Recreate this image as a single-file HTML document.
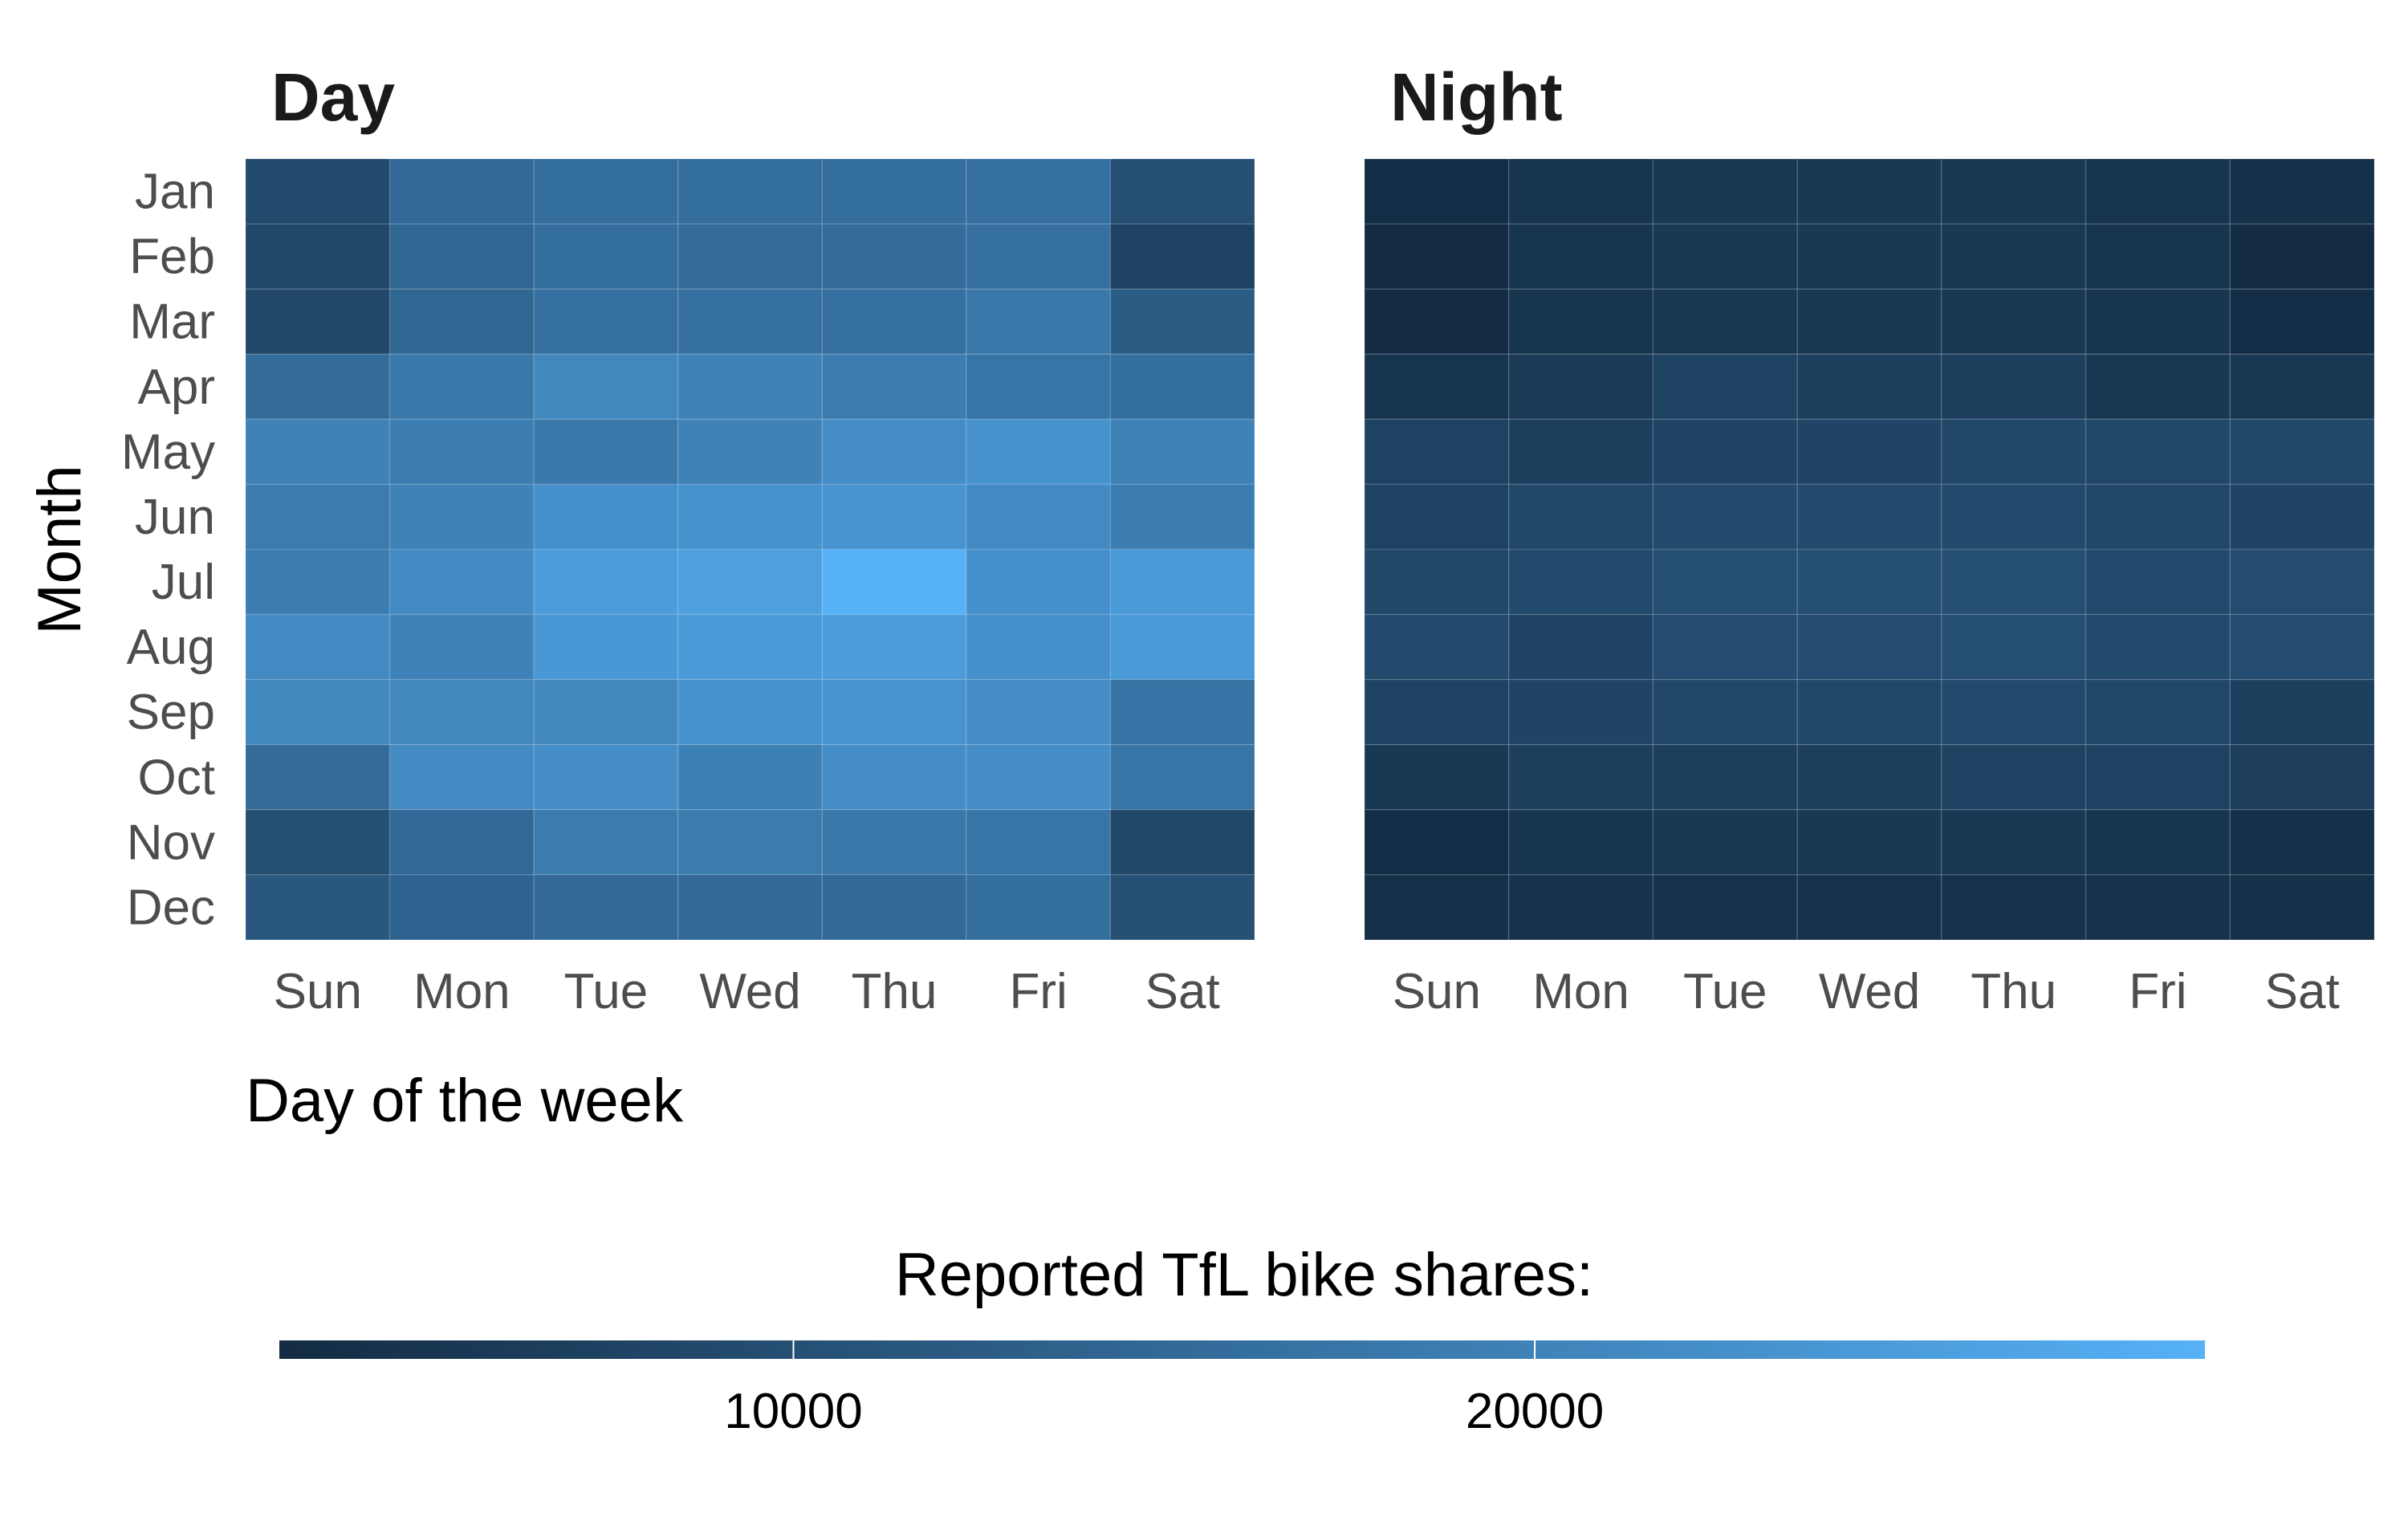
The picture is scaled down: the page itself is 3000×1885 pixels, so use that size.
<!DOCTYPE html>
<html><head><meta charset="utf-8"><style>
html,body{margin:0;padding:0;background:#fff;}
svg text{font-family:"Liberation Sans",sans-serif;}
</style></head><body>
<svg id="chart" width="3000" height="1880" xmlns="http://www.w3.org/2000/svg">
<defs><linearGradient id="cb" x1="0" x2="1" y1="0" y2="0"><stop offset="0" stop-color="#132B43"/><stop offset="1" stop-color="#56B1F7"/></linearGradient></defs>
<g id="g"></g>
</svg>
<script>
const months=["Jan","Feb","Mar","Apr","May","Jun","Jul","Aug","Sep","Oct","Nov","Dec"];
const days=["Sun","Mon","Tue","Wed","Thu","Fri","Sat"];
const dayValues=[
[9000,15000,16000,16000,16000,16500,10000],
[8500,14500,16000,15500,15500,16500,7500],
[8500,14500,16500,16500,16500,18000,12500],
[15500,18000,21000,20000,19000,17500,16000],
[20000,19000,18000,20000,22000,23000,20000],
[18500,20000,22500,23000,23500,21500,19000],
[19000,21500,25000,25500,29000,22500,24500],
[21500,20000,24000,24500,25000,22500,24500],
[21000,21000,21000,23000,23500,22000,17000],
[15500,21500,22000,19500,22000,22000,17500],
[10000,15000,18500,18500,18000,17500,8500],
[11500,14000,15000,15000,15000,16000,10000]];
const nightValues=[
[3500,5000,5500,5500,5500,5000,4000],
[3000,5000,5500,5500,5500,5000,3200],
[3000,5000,5500,5500,5500,5000,3500],
[5000,6000,7500,7000,7000,5500,5500],
[7500,7000,8000,8000,8500,8500,8500],
[7500,8500,9000,9000,9000,8500,8000],
[8500,9000,10000,10000,10000,9000,9500],
[9000,8000,9500,9500,10000,9000,9500],
[7500,8000,8500,8500,9000,8500,7000],
[5500,7000,7000,7000,7500,7500,6500],
[3500,5000,5500,5500,5500,5000,4000],
[4000,4500,4500,4500,4500,4500,4000]];
const legendTicks=[10000,20000];
const domain=[3065,29040];

const NS="http://www.w3.org/2000/svg";
const g=document.getElementById('g');
function el(t,a,txt){const e=document.createElementNS(NS,t);for(const k in a)e.setAttribute(k,a[k]);if(txt!==undefined)e.textContent=txt;g.appendChild(e);return e;}
const c0=[0x13,0x2B,0x43],c1=[0x56,0xB1,0xF7];
function color(v){let t=(v-domain[0])/(domain[1]-domain[0]);t=Math.max(0,Math.min(1,t));return 'rgb('+c0.map((c,i)=>Math.round(c+(c1[i]-c)*t)).join(',')+')';}
const topY=198,bottomY=1171,rowH=(bottomY-topY)/months.length;
function panel(x0,x1,vals,title,key){
  const colW=(x1-x0)/days.length;
  const t=el('text',{x:x0+32,y:150,'font-size':84,'font-weight':'bold',fill:'#1a1a1a'},title);
  
  
  vals.forEach((row,i)=>row.forEach((v,j)=>{
    const r=el('rect',{x:x0+j*colW,y:topY+i*rowH,width:colW,height:rowH,fill:color(v),stroke:'rgba(255,255,255,0.12)','stroke-width':1.5});
    
    
  }));
  days.forEach((d,j)=>{
    const l=el('text',{x:x0+(j+0.5)*colW,y:1256,'font-size':62,fill:'#4d4d4d','text-anchor':'middle'},d);
    
    
  });
}
panel(306,1563,dayValues,'Day','day');
panel(1700,2958,nightValues,'Night','night');
months.forEach((m,i)=>{
  const l=el('text',{x:268,y:topY+(i+0.5)*rowH+21,'font-size':62,fill:'#4d4d4d','text-anchor':'end'},m);
  
  
});
const yt=el('text',{x:0,y:0,'font-size':76,fill:'#000','text-anchor':'middle',transform:'translate(100,685) rotate(-90)'},'Month');


const xt=el('text',{x:306,y:1397,'font-size':76,fill:'#000'},'Day of the week');


const lt=el('text',{x:1550,y:1614,'font-size':76,fill:'#000','text-anchor':'middle'},'Reported TfL bike shares:');


const bx0=348,bx1=2747,by=1670,bh=23;
const bar=el('rect',{x:bx0,y:by,width:bx1-bx0,height:bh,fill:'url(#cb)'});


function lx(v){return bx0+(v-domain[0])/(domain[1]-domain[0])*(bx1-bx0);}
legendTicks.forEach(v=>{
  const tk=el('line',{x1:lx(v),x2:lx(v),y1:by,y2:by+bh,stroke:'#fff','stroke-width':2});
  
  
  const tl=el('text',{x:lx(v),y:1779,'font-size':62,fill:'#000','text-anchor':'middle'},String(v));
  
  
});
</script>
</body></html>
